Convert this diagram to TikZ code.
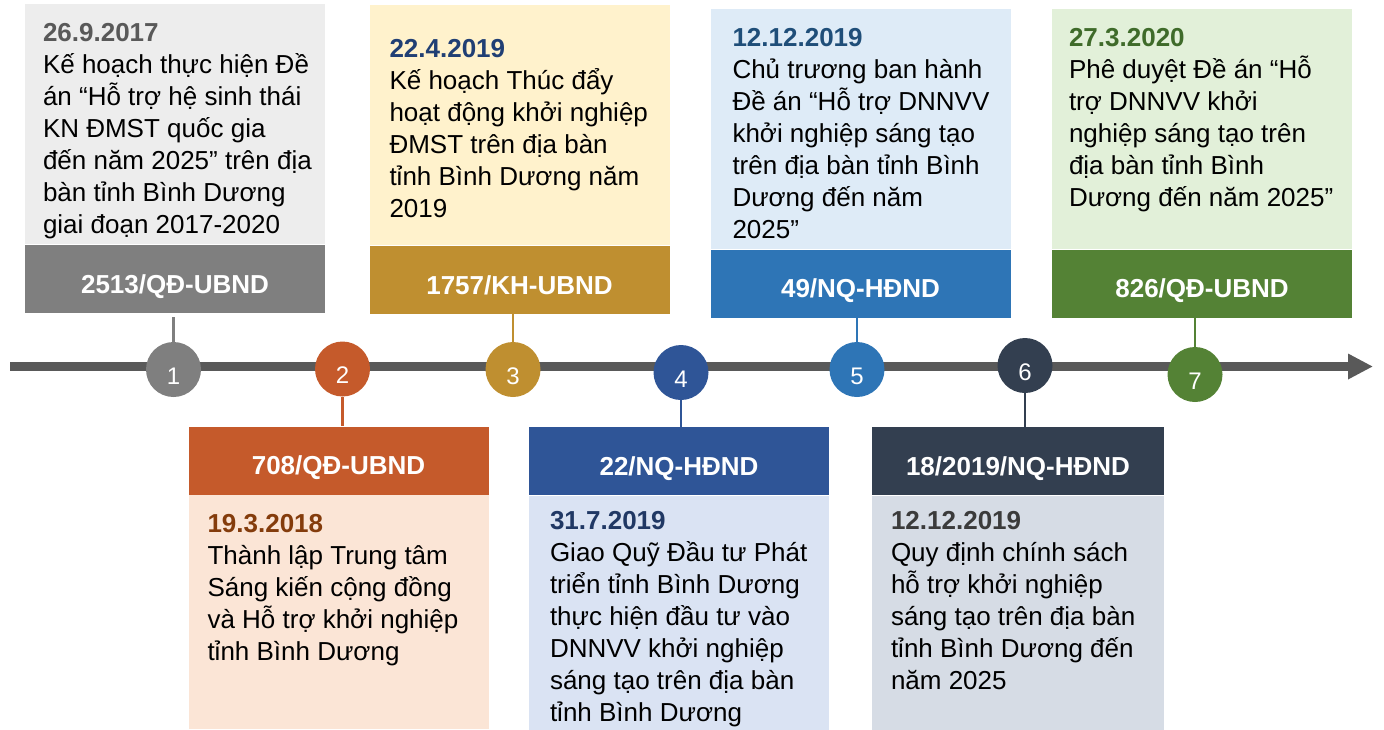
\documentclass[tikz,border=0pt]{standalone}
\usepackage{fontspec}
\setmainfont{Liberation Sans}
\usetikzlibrary{arrows.meta,positioning}

\definecolor{ax}{HTML}{595959}
\definecolor{c1}{HTML}{7F7F7F}\definecolor{l1}{HTML}{EDEDED}\definecolor{t1}{HTML}{595959}
\definecolor{c2}{HTML}{C55A2B}\definecolor{l2}{HTML}{FBE5D6}\definecolor{t2}{HTML}{843C0C}
\definecolor{c3}{HTML}{BF8F30}\definecolor{l3}{HTML}{FFF2CC}\definecolor{t3}{HTML}{203F74}
\definecolor{c4}{HTML}{2F5597}\definecolor{l4}{HTML}{DAE3F3}\definecolor{t4}{HTML}{203864}
\definecolor{c5}{HTML}{2E75B6}\definecolor{l5}{HTML}{DEEBF7}\definecolor{t5}{HTML}{1F4E79}
\definecolor{c6}{HTML}{333F50}\definecolor{l6}{HTML}{D6DCE5}\definecolor{t6}{HTML}{3B3B3B}
\definecolor{c7}{HTML}{548235}\definecolor{l7}{HTML}{E2F0D9}\definecolor{t7}{HTML}{3F6B2A}

\begin{document}
\begin{tikzpicture}[x=0.5pt,y=-0.5pt,
  every node/.style={font=\fontsize{13}{16}\selectfont},
  hdr/.style={fill=#1,text=white,font=\fontsize{13}{16}\selectfont\bfseries,minimum width=150pt,minimum height=34pt,inner sep=0pt,text height=14pt,text depth=0pt},
  card/.style={fill=#1,minimum width=150pt,inner sep=0pt},
  txt/.style={anchor=north west,align=left,inner sep=0pt},
  dot/.style={circle,fill=#1,text=white,font=\fontsize{12}{14}\selectfont,minimum size=27.5pt,inner sep=0pt,text height=14.6pt,text depth=0pt},
  stem/.style={draw=#1,line width=1.3pt},
  axis/.style={draw=ax,line width=4.5pt,-{Triangle[length=12.5pt,width=12pt]}}]
  \useasboundingbox (0,0) rectangle (1384,729);

  \coordinate (t0) at (10,366.5);
  \coordinate (t1) at (1373,366.5);
  \draw[axis] (t0) -- (t1);

  \node[hdr=c1] (h1) at (175,279) {2513/QĐ-UBND};
  \node[card=l1,minimum height=120pt,above=0pt of h1] (k1) {};
  \node[txt] (x1) at ([xshift=9pt,yshift=-9.5pt]k1.north west)
    {{\bfseries\color{t1}26.9.2017}\\Kế hoạch thực hiện Đề\\án “Hỗ trợ hệ sinh thái\\KN ĐMST quốc gia\\đến năm 2025” trên địa\\bàn tỉnh Bình Dương\\giai đoạn 2017-2020};

  \node[hdr=c3] (h3) at (519.5,280) {1757/KH-UBND};
  \node[card=l3,minimum height=120pt,above=0pt of h3] (k3) {};
  \node[txt] (x3) at ([xshift=10pt,yshift=-17pt]k3.north west)
    {{\bfseries\color{t3}22.4.2019}\\Kế hoạch Thúc đẩy\\hoạt động khởi nghiệp\\ĐMST trên địa bàn\\tỉnh Bình Dương năm\\2019};

  \node[hdr=c5] (h5) at (860.5,283.5) {49/NQ-HĐND};
  \node[card=l5,minimum height=120pt,above=0pt of h5] (k5) {};
  \node[txt] (x5) at ([xshift=11pt,yshift=-10pt]k5.north west)
    {{\bfseries\color{t5}12.12.2019}\\Chủ trương ban hành\\Đề án “Hỗ trợ DNNVV\\khởi nghiệp sáng tạo\\trên địa bàn tỉnh Bình\\Dương đến năm\\2025”};

  \node[hdr=c7] (h7) at (1202,283.5) {826/QĐ-UBND};
  \node[card=l7,minimum height=120pt,above=0pt of h7] (k7) {};
  \node[txt] (x7) at ([xshift=8.5pt,yshift=-10pt]k7.north west)
    {{\bfseries\color{t7}27.3.2020}\\Phê duyệt Đề án “Hỗ\\trợ DNNVV khởi\\nghiệp sáng tạo trên\\địa bàn tỉnh Bình\\Dương đến năm 2025”};

  \node[hdr=c2] (h2) at (338.5,460.5) {708/QĐ-UBND};
  \node[card=l2,minimum height=117pt,below=0pt of h2] (k2) {};
  \node[txt] (x2) at ([xshift=9.5pt,yshift=-9.5pt]k2.north west)
    {{\bfseries\color{t2}19.3.2018}\\Thành lập Trung tâm\\Sáng kiến cộng đồng\\và Hỗ trợ khởi nghiệp\\tỉnh Bình Dương};

  \node[hdr=c4] (h4) at (679,461) {22/NQ-HĐND};
  \node[card=l4,minimum height=117pt,below=0pt of h4] (k4) {};
  \node[txt] (x4) at ([xshift=10.5pt,yshift=-8pt]k4.north west)
    {{\bfseries\color{t4}31.7.2019}\\Giao Quỹ Đầu tư Phát\\triển tỉnh Bình Dương\\thực hiện đầu tư vào\\DNNVV khởi nghiệp\\sáng tạo trên địa bàn\\tỉnh Bình Dương};

  \node[hdr=c6,minimum width=146pt] (h6) at (1018,461) {18/2019/NQ-HĐND};
  \node[card=l6,minimum width=146pt,minimum height=117pt,below=0pt of h6] (k6) {};
  \node[txt] (x6) at ([xshift=9.5pt,yshift=-8pt]k6.north west)
    {{\bfseries\color{t6}12.12.2019}\\Quy định chính sách\\hỗ trợ khởi nghiệp\\sáng tạo trên địa bàn\\tỉnh Bình Dương đến\\năm 2025};

  \node[dot=c1] (d1) at (173.5,369.5) {1};
  \node[dot=c2] (d2) at (342.5,369) {2};
  \node[dot=c3] (d3) at (513,369.5) {3};
  \node[dot=c4] (d4) at (681,372.5) {4};
  \node[dot=c5] (d5) at (857,369.5) {5};
  \node[dot=c6] (d6) at (1025,365.5) {6};
  \node[dot=c7] (d7) at (1195,374.5) {7};

  \draw[stem=c1,shorten >=2pt] (d1) -- (d1 |- h1.south);
  \draw[stem=c2] (d2) -- (d2 |- h2.north);
  \draw[stem=c3] (d3) -- (d3 |- h3.south);
  \draw[stem=c4] (d4) -- (d4 |- h4.north);
  \draw[stem=c5] (d5) -- (d5 |- h5.south);
  \draw[stem=c6] (d6) -- (d6 |- h6.north);
  \draw[stem=c7] (d7) -- (d7 |- h7.south);
\end{tikzpicture}
\end{document}
